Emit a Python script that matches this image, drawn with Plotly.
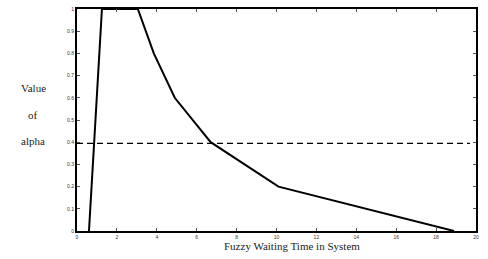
import plotly.graph_objects as go

time_x = [0.6, 1.25, 3.05, 3.85, 4.9, 6.7, 10.1, 18.9]
alpha_y = [0.0, 1.0, 1.0, 0.8, 0.6, 0.4, 0.2, 0.0]
alpha_cut = 0.395
cut_x = [0, 19.7]
x_ticks = list(range(0, 21, 2))
y_ticks = [0, 0.1, 0.2, 0.3, 0.4, 0.5, 0.6, 0.7, 0.8, 0.9, 1]
y_labels = ["0", "0.1", "0.2", "0.3", "0.4", "0.5", "0.6", "0.7", "0.8", "0.9", "1"]

fig = go.Figure()
fig.add_trace(go.Scatter(x=time_x, y=alpha_y, mode="lines",
                         line=dict(color="black", width=2), showlegend=False))
fig.add_trace(go.Scatter(x=cut_x, y=[alpha_cut, alpha_cut], mode="lines",
                         line=dict(color="black", width=1.3, dash="6px,4px"), showlegend=False))

axis_common = dict(showline=True, linecolor="black", linewidth=2, mirror="ticks",
                   ticks="inside", ticklen=3, tickcolor="#555", tickwidth=1,
                   showgrid=False, zeroline=False,
                   tickfont=dict(family="Liberation Sans, Arial", size=5, color="#333"))

fig.update_layout(
    width=488, height=259,
    margin=dict(l=77, r=12, t=6, b=28),
    plot_bgcolor="white", paper_bgcolor="white",
    xaxis=dict(range=[0, 20], tickvals=x_ticks, ticktext=[str(v) for v in x_ticks], **axis_common),
    yaxis=dict(range=[0, 1], tickvals=y_ticks, ticktext=y_labels, **axis_common),
)

serif = dict(family="Liberation Serif, Times New Roman, serif", size=11, color="#222")
for txt, ypx in [("Value", 86), ("of", 113), ("alpha", 140)]:
    fig.add_annotation(text=txt, xref="paper", yref="paper", showarrow=False,
                       x=(33 - 77) / 399, y=(231 - ypx) / 225, xanchor="center", yanchor="middle",
                       font=serif)
fig.add_annotation(text="Fuzzy Waiting Time in System", xref="paper", yref="paper", showarrow=False,
                   x=(292 - 77) / 399, y=(231 - 246) / 225, xanchor="center", yanchor="middle",
                   font=serif)

fig.write_html("out.html")
